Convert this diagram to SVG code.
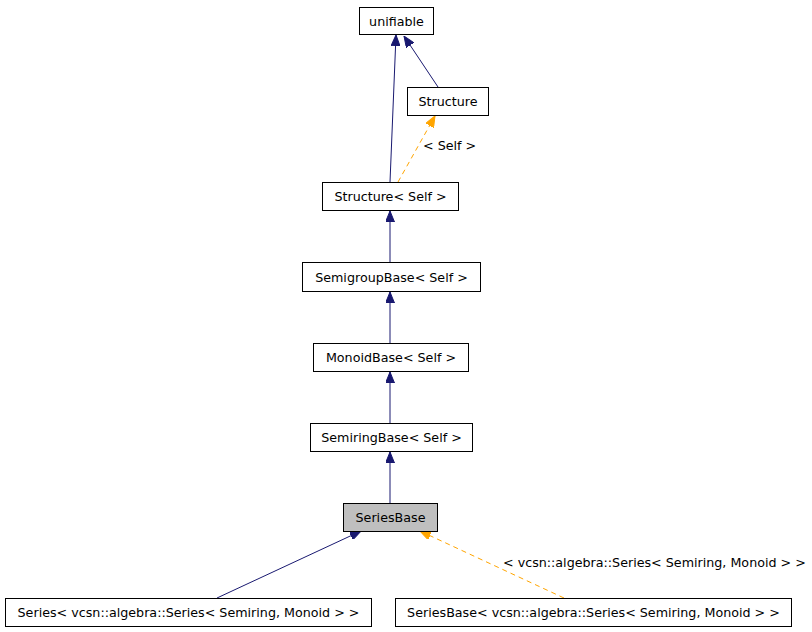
<svg xmlns="http://www.w3.org/2000/svg" width="812" height="632" viewBox="0 0 812 632">
<style>
.box{fill:#ffffff;stroke:#000000;stroke-width:1}
.hl{fill:#bfbfbf;stroke:#000000;stroke-width:1}
text{font-family:"DejaVu Sans",sans-serif;font-size:12.7px;fill:#000000;text-anchor:middle}
.lbl{text-anchor:start}
.inh{fill:none;stroke:#191970;stroke-width:1}
.tpl{fill:none;stroke:#ffa500;stroke-width:1;stroke-dasharray:5,4}
</style>
<defs>
<marker id="ab" markerUnits="userSpaceOnUse" markerWidth="11" markerHeight="9" refX="11" refY="4.5" orient="auto"><path d="M0,0 L11,4.5 L0,9 z" fill="#191970" stroke="#191970"/></marker>
<marker id="ao" markerUnits="userSpaceOnUse" markerWidth="11" markerHeight="9" refX="11" refY="4.5" orient="auto"><path d="M0,0 L11,4.5 L0,9 z" fill="#ffa500" stroke="#ffa500"/></marker>
</defs>
<rect width="812" height="632" fill="#ffffff"/>
<g id="edges">
<path class="inh" d="M390,182 L396,35" marker-end="url(#ab)"/>
<path class="inh" d="M438,87 L404,36" marker-end="url(#ab)"/>
<path class="tpl" d="M398,182 L435,116" marker-end="url(#ao)"/>
<text class="lbl" x="423" y="150">&lt; Self &gt;</text>
<path class="inh" d="M390,262 L390,211" marker-end="url(#ab)"/>
<path class="inh" d="M390,343 L390,292" marker-end="url(#ab)"/>
<path class="inh" d="M390,423 L390,372" marker-end="url(#ab)"/>
<path class="inh" d="M390,503 L390,452" marker-end="url(#ab)"/>
<path class="inh" d="M217,598 L361,531" marker-end="url(#ab)"/>
<path class="tpl" d="M564,598 L420,531" marker-end="url(#ao)"/>
<text class="lbl" x="503" y="567">&lt; vcsn::algebra::Series&lt; Semiring, Monoid &gt; &gt;</text>
</g>
<g id="unifiable"><rect class="box" x="359.5" y="7.5" width="74" height="27"/><text x="396.5" y="25.5">unifiable</text></g>
<g id="Structure"><rect class="box" x="407.5" y="87.5" width="81" height="28"/><text x="448" y="106">Structure</text></g>
<g id="StructureSelf"><rect class="box" x="322.5" y="182.5" width="136" height="28"/><text x="390.5" y="201">Structure&lt; Self &gt;</text></g>
<g id="SemigroupBase"><rect class="box" x="302.5" y="262.5" width="178" height="29"/><text x="391.5" y="281.5">SemigroupBase&lt; Self &gt;</text></g>
<g id="MonoidBase"><rect class="box" x="313.5" y="343.5" width="155" height="28"/><text x="391" y="362">MonoidBase&lt; Self &gt;</text></g>
<g id="SemiringBase"><rect class="box" x="310.5" y="423.5" width="162" height="28"/><text x="391.5" y="442">SemiringBase&lt; Self &gt;</text></g>
<g id="SeriesBase"><rect class="hl" x="343.5" y="503.5" width="94" height="28"/><text x="390.5" y="522">SeriesBase</text></g>
<g id="SeriesInst"><rect class="box" x="5.5" y="598.5" width="366" height="28"/><text x="188.5" y="617">Series&lt; vcsn::algebra::Series&lt; Semiring, Monoid &gt; &gt;</text></g>
<g id="SeriesBaseInst"><rect class="box" x="395.5" y="598.5" width="396" height="28"/><text x="593.5" y="617">SeriesBase&lt; vcsn::algebra::Series&lt; Semiring, Monoid &gt; &gt;</text></g>
</svg>
